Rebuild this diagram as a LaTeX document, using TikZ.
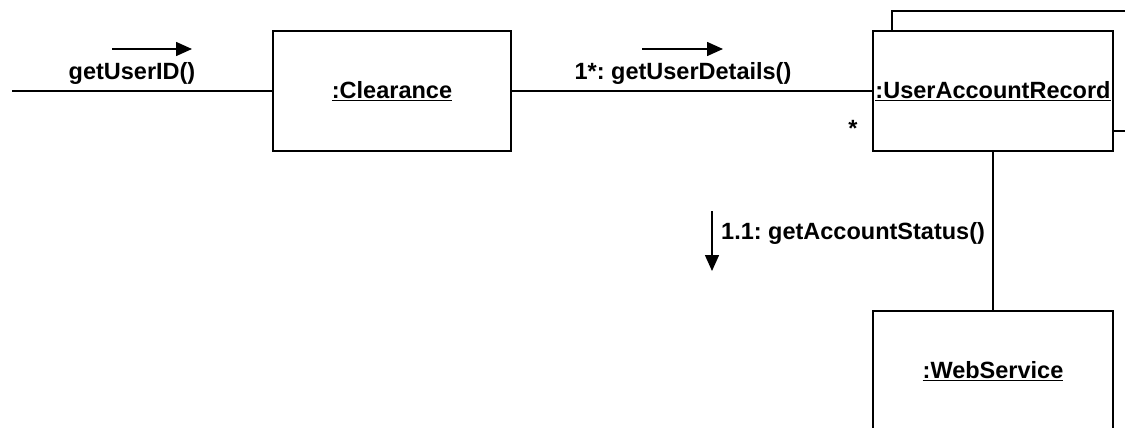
\documentclass[tikz,border=0pt]{standalone}
\usepackage{fontspec}
\setmainfont{Liberation Sans}
\usetikzlibrary{arrows.meta}
\frenchspacing
\begin{document}
\begin{tikzpicture}[x=1pt, y=-1pt,
  obj/.style={draw, line width=1.5pt, fill=white, minimum width=240pt,
    minimum height=120pt, inner sep=0pt,
    font=\fontsize{23.5}{28}\selectfont\bfseries},
  lnk/.style={line width=1.5pt},
  msg/.style={line width=1.5pt, -{Triangle[length=16pt,width=14pt]}},
  lbl/.style={font=\fontsize{23.5}{28}\selectfont\bfseries, inner sep=0pt}]
\useasboundingbox (0,0) rectangle (1125,428);
\clip (0,0) rectangle (1125,428);

% multi-object stack behind the record
\draw[line width=1.5pt, fill=white] (892,11) rectangle (1140,131);

% objects
\node[obj, minimum width=238pt] (clr) at (392,91) {\underline{:Clearance}};
\node[obj] (uar) at (993,91) {\underline{:UserAccountRecord}};
\node[obj] (ws) at (993,371) {\underline{:WebService}};

% links
\coordinate (in) at (12,91);
\draw[lnk] (in) -- (clr.west);
\draw[lnk] (clr.east) -- (uar.west);
\draw[lnk] (uar.south) -- (ws.north);

% messages
\coordinate (m1a) at (112,49);
\coordinate (m1b) at (192,49);
\draw[msg] (m1a) -- (m1b);
\node[lbl] (l1) at (132,73) {getUserID()};

\coordinate (m2a) at (642,49);
\coordinate (m2b) at (723,49);
\draw[msg] (m2a) -- (m2b);
\node[lbl] (l2) at (683,73) {1*: getUserDetails()};
\node[lbl] (mult) at (853,128) {*};

\coordinate (m3a) at (712,211);
\coordinate (m3b) at (712,271);
\draw[msg] (m3a) -- (m3b);
\node[lbl, anchor=west] (l3) at (721,233) {1.1: getAccountStatus()};
\end{tikzpicture}
\end{document}
